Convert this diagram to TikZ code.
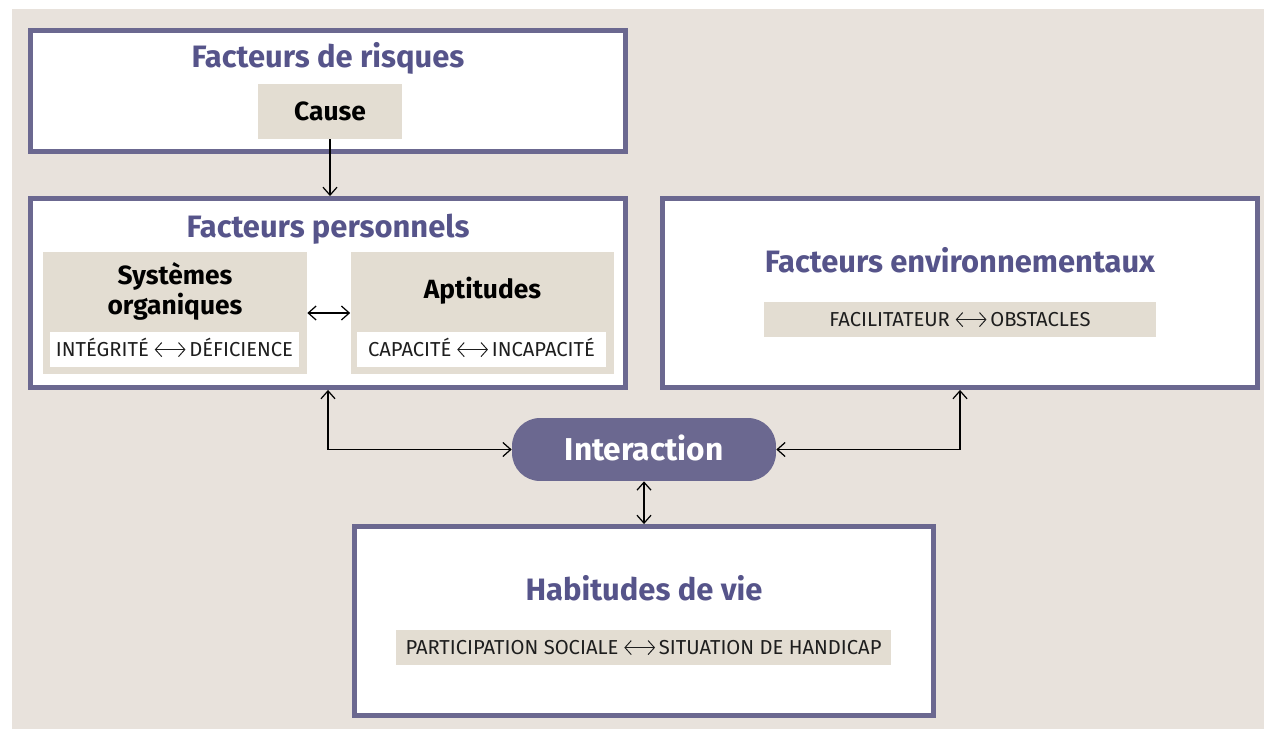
\documentclass[tikz,border=0pt]{standalone}
\usepackage{fontspec}
\setmainfont{Fira Sans}
\usetikzlibrary{positioning, arrows.meta}
\definecolor{FrameViolet}{RGB}{107, 104, 144}
\definecolor{TitleViolet}{RGB}{86, 84, 138}
\definecolor{PaperBeige}{RGB}{232, 226, 220}
\definecolor{StripBeige}{RGB}{227, 221, 210}
\definecolor{InkBlack}{RGB}{30, 30, 30}
\newcommand{\dblarrow}{\tikz[baseline=0pt]\draw[line width=0.55pt, {Straight Barb[length=3.6pt, width=8pt]}-{Straight Barb[length=3.6pt, width=8pt]}] (0pt,3.9pt) -- (17.5pt,3.9pt);\,}

\begin{document}
\begin{tikzpicture}[x=0.02cm, y=-0.02cm,
    >={Straight Barb[length=4.5pt, width=8pt]},
    factorbox/.style={draw=FrameViolet, line width=2.8pt, fill=white},
    boxtitle/.style={font=\fontsize{17.6}{20}\selectfont\bfseries, text=TitleViolet, anchor=base, inner sep=0pt},
    innerbox/.style={fill=StripBeige, minimum width=5.28cm, minimum height=2.44cm},
    innertitle/.style={font=\fontsize{15}{17}\selectfont\bfseries, inner sep=0pt},
    stripbox/.style={font=\fontsize{11.5}{13}\selectfont, text=InkBlack, text height=7.9pt, text depth=0pt, minimum height=0.7cm, inner sep=0pt},
    link/.style={line width=0.7pt},
  ]
    % Fond
    \fill[PaperBeige] (12,9) rectangle (1264,729);
    \useasboundingbox (0,0) rectangle (1264,729);

    % Facteurs de risques
    \node[factorbox, minimum width=11.9cm, minimum height=2.42cm] (risk) at (328,91) {};
    \node[boxtitle] (riskT) at (328,68) {Facteurs de risques};
    \node[fill=StripBeige, minimum width=2.88cm, minimum height=1.1cm, font=\fontsize{15}{18}\selectfont\bfseries, text height=10.3pt, text depth=0pt] (cause) at (330,111.5) {Cause};

    % Facteurs personnels
    \node[factorbox, minimum width=11.9cm, minimum height=3.78cm] (pers) at (328,293) {};
    \node[boxtitle] (persT) at (328,238) {Facteurs personnels};
    \node[innerbox] (sys) at (175,313) {};
    \node[innertitle, align=center] (sysT) at (175,291.5) {Systèmes\\organiques};
    \node[stripbox, fill=white, minimum width=4.98cm] (sysS) at (174.5,349.5) {INTÉGRITÉ \dblarrow DÉFICIENCE};
    \node[innerbox] (apt) at (482.5,313) {};
    \node[innertitle, anchor=base] (aptT) at (482.5,299) {Aptitudes};
    \node[stripbox, fill=white, minimum width=4.98cm] (aptS) at (481.5,349.5) {CAPACITÉ \dblarrow INCAPACITÉ};

    % Facteurs environnementaux
    \node[factorbox, minimum width=11.9cm, minimum height=3.78cm] (env) at (960,293) {};
    \node[boxtitle] (envT) at (960,273) {Facteurs environnementaux};
    \node[stripbox, fill=StripBeige, minimum width=7.84cm] (envS) at (960,319.5) {FACILITATEUR \dblarrow OBSTACLES};

    % Interaction
    \node[fill=FrameViolet, rounded corners=0.56cm, minimum width=5.28cm, minimum height=1.26cm, text=white, font=\fontsize{18}{21}\selectfont\bfseries, text height=12.4pt, text depth=0pt] (inter) at (644,449.5) {Interaction};

    % Habitudes de vie
    \node[factorbox, minimum width=11.58cm, minimum height=3.78cm] (hab) at (644,621) {};
    \node[boxtitle] (habT) at (644,600) {Habitudes de vie};
    \node[stripbox, fill=StripBeige, minimum width=9.9cm] (habS) at (643.5,647.5) {PARTICIPATION SOCIALE \dblarrow SITUATION DE HANDICAP};

    % Liens
    \draw[link, ->] (cause.south) -- (cause.south |- pers.north);
    \draw[link, <->] (sys.east) -- (apt.west);
    \draw[link, <->] (pers.south) |- (inter.west);
    \draw[link, <->] (env.south) |- (inter.east);
    \draw[link, <->] (inter.south) -- (hab.north);
\end{tikzpicture}
\end{document}
